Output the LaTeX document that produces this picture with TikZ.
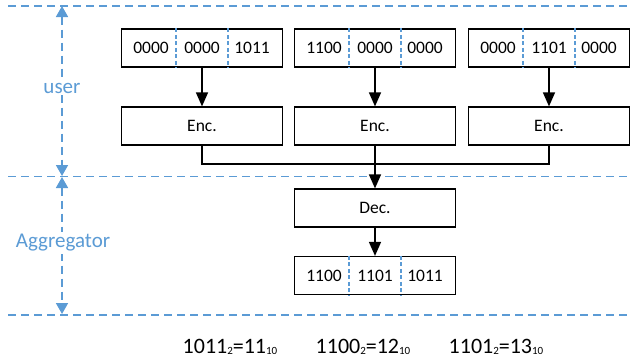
\documentclass[tikz,border=0pt]{standalone}
\usepackage{fontspec}
\setmainfont{Carlito}
\usetikzlibrary{arrows.meta}
\definecolor{lineblue}{RGB}{91,155,213}
\newcommand\basesub[1]{\raisebox{-1.5pt}{\fontsize{11}{11}\selectfont #1}}

\begin{document}
\begin{tikzpicture}[x=1pt,y=-1pt,
  box/.style={draw, line width=1.2pt, minimum width=161pt, minimum height=38pt, inner sep=0pt, font=\fontsize{17.5}{17.5}\selectfont},
  bits/.style={inner sep=0pt, font=\fontsize{17.5}{17.5}\selectfont},
  divider/.style={draw=lineblue, dash pattern=on 4pt off 2.5pt, line width=1.2pt},
  layer/.style={draw=lineblue, dash pattern=on 8pt off 5pt, line width=1.8pt},
  span/.style={layer, {Triangle[width=12pt,length=11pt]}-{Triangle[width=12pt,length=11pt]}},
  flow/.style={line width=1.4pt, -{Triangle[width=12pt,length=14pt]}},
  tag/.style={text=lineblue, fill=white, inner sep=2pt, font=\fontsize{21}{21}\selectfont},
  note/.style={anchor=base, inner sep=0pt, font=\fontsize{22}{22}\selectfont}]
\useasboundingbox (0,0) rectangle (632,364);
% layer borders
\draw[layer] (8,6) -- (632,6);
\draw[layer] (8,176.5) -- (632,176.5);
\draw[layer] (8,315) -- (632,315);
\coordinate (s0) at (62,6);
\coordinate (s1) at (62,176);
\coordinate (s2) at (62,177);
\coordinate (s3) at (62,314);
\draw[span] (s0) -- (s1);
\draw[span] (s2) -- (s3);
\node[tag] (user) at (62,88){user};
\node[tag] (agg) at (63,243){Aggregator};
% user vectors
\node[box] (u1) at (202,48){};
\node[box] (u2) at (375,48){};
\node[box] (u3) at (549,48){};
\node[bits] at ([xshift=-51pt]u1.center){0000};
\node[bits] at (u1.center){0000};
\node[bits] at ([xshift=50pt]u1.center){1011};
\node[bits] at ([xshift=-51pt]u2.center){1100};
\node[bits] at (u2.center){0000};
\node[bits] at ([xshift=50pt]u2.center){0000};
\node[bits] at ([xshift=-51pt]u3.center){0000};
\node[bits] at (u3.center){1101};
\node[bits] at ([xshift=50pt]u3.center){0000};
\foreach \v in {u1,u2,u3}{
  \draw[divider] ([xshift=-26pt]\v.north) -- ([xshift=-26pt]\v.south);
  \draw[divider] ([xshift=26pt]\v.north) -- ([xshift=26pt]\v.south);
}
% encoders
\node[box] (e1) at (202,126){Enc.};
\node[box] (e2) at (375,126){Enc.};
\node[box] (e3) at (549,126){Enc.};
\draw[flow] (u1) -- (e1);
\draw[flow] (u2) -- (e2);
\draw[flow] (u3) -- (e3);
% aggregator
\node[box] (dec) at (375,208){Dec.};
\node[box] (sum) at (375,275.5){};
\node[bits] at ([xshift=-51pt]sum.center){1100};
\node[bits] at (sum.center){1101};
\node[bits] at ([xshift=50pt]sum.center){1011};
\draw[divider] ([xshift=-26pt]sum.north) -- ([xshift=-26pt]sum.south);
\draw[divider] ([xshift=26pt]sum.north) -- ([xshift=26pt]sum.south);
\coordinate (join) at (375,164);
\draw[line width=1.4pt] (e1.south) |- (join);
\draw[line width=1.4pt] (e3.south) |- (join);
\draw[flow] (e2) -- (dec);
\draw[flow] (dec) -- (sum);
% decoded values
\node[note] (n1) at (230,353){1011\basesub{2}=11\basesub{10}};
\node[note] (n2) at (363,353){1100\basesub{2}=12\basesub{10}};
\node[note] (n3) at (496,353){1101\basesub{2}=13\basesub{10}};
\end{tikzpicture}
\end{document}
